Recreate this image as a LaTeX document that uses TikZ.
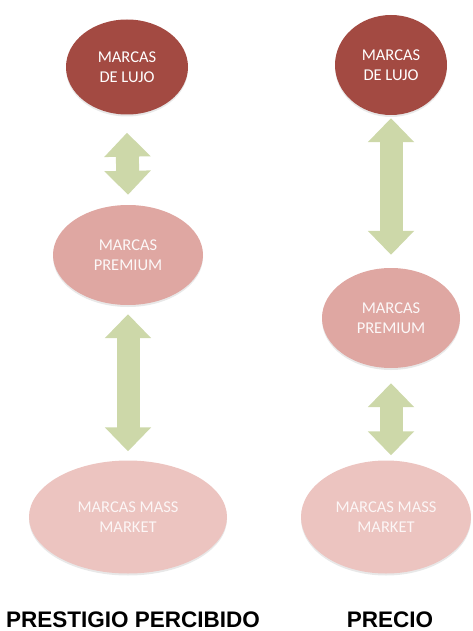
\documentclass[tikz,border=0pt]{standalone}
\usepackage{fontspec}
\setmainfont{Carlito}
\newfontfamily\lblfont{Liberation Sans}
\usetikzlibrary{shapes.geometric,arrows.meta,shadows}

\definecolor{lujo}{RGB}{163,74,66}
\definecolor{prem}{RGB}{223,167,162}
\definecolor{mass}{RGB}{236,196,192}
\definecolor{flecha}{RGB}{205,216,169}

\begin{document}
\begin{tikzpicture}[x=1pt,y=-1pt,
  marca/.style={ellipse,inner sep=0pt,align=center,font=\fontsize{16.5}{19.5}\selectfont,
    drop shadow={opacity=0.18,shadow xshift=0pt,shadow yshift=-2pt}},
  dblarrow/.style={line width=23pt,flecha,
    {Triangle[width=45pt,length=24pt]}-{Triangle[width=45pt,length=24pt]}},
  lbl/.style={anchor=base,font=\lblfont\bfseries\fontsize{22.5}{25}\selectfont}]
\useasboundingbox (0,0) rectangle (473,631);
% prestigio percibido
\node[marca,fill=lujo,text=white,minimum width=122pt,minimum height=95pt] (lujoA) at (127,67) {MARCAS\\DE LUJO};
\node[marca,fill=prem,text=white!92!prem,minimum width=150pt,minimum height=100pt] (premA) at (128,255) {MARCAS\\PREMIUM};
\node[marca,fill=mass,text=white!85!mass,minimum width=198pt,minimum height=113pt] (massA) at (128,517) {MARCAS MASS\\MARKET};
\draw[dblarrow] ([yshift=-18pt]lujoA.south) -- ([yshift=10pt]premA.north);
\draw[dblarrow] ([yshift=-9pt]premA.south) -- ([yshift=9pt]massA.north);
% precio
\node[marca,fill=lujo,text=white,minimum width=112pt,minimum height=100pt] (lujoB) at (391,65) {MARCAS\\DE LUJO};
\node[marca,fill=prem,text=white!92!prem,minimum width=138pt,minimum height=100pt] (premB) at (391,318) {MARCAS\\PREMIUM};
\node[marca,fill=mass,text=white!85!mass,minimum width=170pt,minimum height=113pt] (massB) at (386,517) {MARCAS MASS\\MARKET};
\draw[dblarrow] ([yshift=-3pt]lujoB.south) -- ([yshift=13pt]premB.north);
\draw[dblarrow] ([yshift=-15pt]premB.south) -- ([yshift=5pt]premB.south |- massB.north);
\node[lbl] (lblA) at (133,627) {PRESTIGIO PERCIBIDO};
\node[lbl] (lblB) at (390,627) {PRECIO};
\end{tikzpicture}
\end{document}
